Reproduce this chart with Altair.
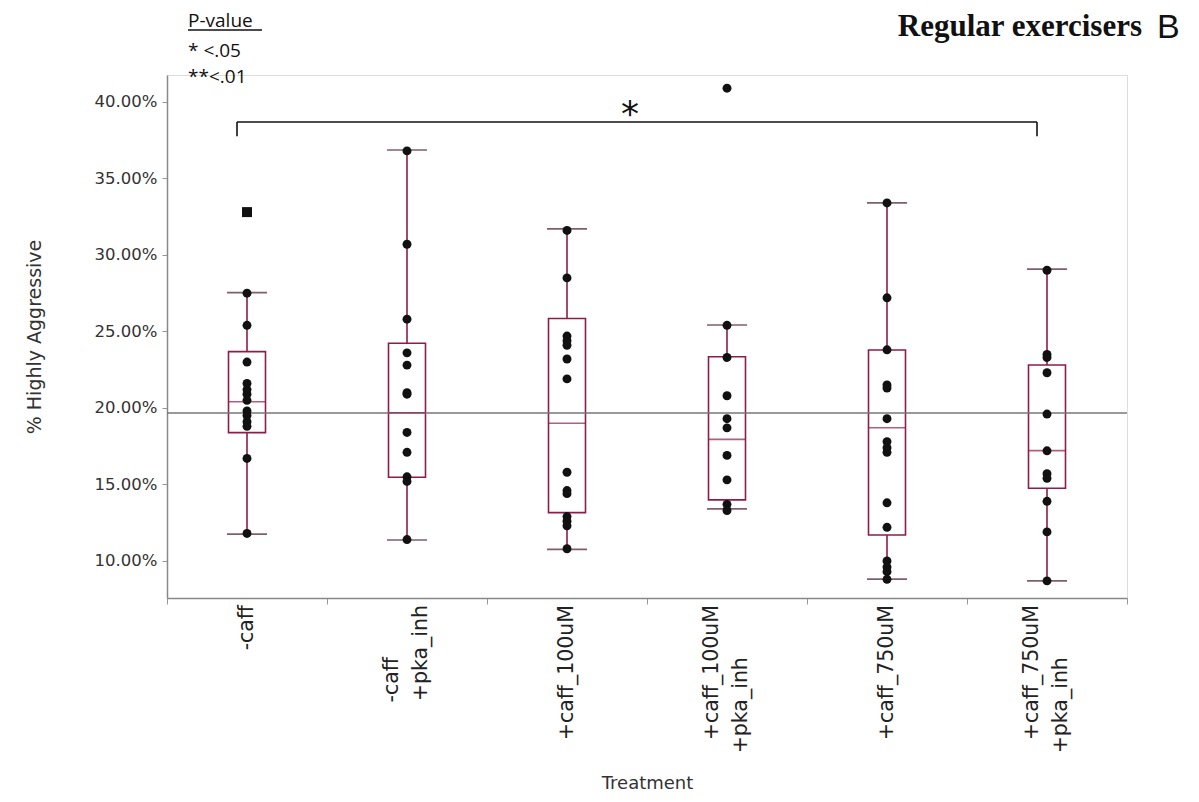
import altair as alt
import pandas as pd

# ---------------- data (percent values) ----------------
categories = ["-caff", "-caff +pka_inh", "+caff_100uM", "+caff_100uM +pka_inh",
              "+caff_750uM", "+caff_750uM +pka_inh"]
whisker_low = [11.76, 11.37, 10.76, 13.40, 8.82, 8.70]
q1 = [18.39, 15.47, 13.16, 13.99, 11.70, 14.75]
median = [20.41, 19.69, 19.00, 17.95, 18.71, 17.21]
q3 = [23.68, 24.23, 25.85, 23.35, 23.79, 22.81]
whisker_high = [27.54, 36.86, 31.70, 25.42, 33.40, 29.07]

pts_caff = [27.5, 25.4, 23.0, 21.6, 21.2, 20.9, 20.5, 19.8, 19.5, 19.1, 18.8, 16.7, 11.8]
pts_caff_pka = [36.8, 30.7, 25.8, 23.6, 22.8, 21.0, 20.9, 18.4, 17.1, 15.5, 15.2, 11.4]
pts_c100 = [31.6, 28.5, 24.7, 24.4, 24.1, 23.2, 21.9, 15.8, 14.6, 14.4, 12.9, 12.6, 12.3, 10.8]
pts_c100_pka = [40.9, 25.4, 23.3, 20.8, 19.3, 18.7, 16.9, 15.3, 13.7, 13.3]
pts_c750 = [33.4, 27.2, 23.8, 21.5, 21.3, 19.3, 17.8, 17.4, 17.1, 13.8, 12.2, 10.0, 9.6, 9.3, 8.8]
pts_c750_pka = [29.0, 23.5, 23.3, 22.3, 19.6, 17.2, 15.7, 15.4, 13.9, 11.9, 8.7]
square_outlier_cat = ["-caff"]
square_outlier_val = [32.8]

reference_line = 19.67
bracket_from, bracket_to = categories[0], categories[5]
bracket_level, bracket_tick_end = 38.69, 37.75

# ---------------- tables ----------------
box_df = pd.DataFrame({
    "cat": categories,
    "low": [v / 100 for v in whisker_low],
    "q1": [v / 100 for v in q1],
    "med": [v / 100 for v in median],
    "q3": [v / 100 for v in q3],
    "high": [v / 100 for v in whisker_high],
})
all_pts = [pts_caff, pts_caff_pka, pts_c100, pts_c100_pka, pts_c750, pts_c750_pka]
pts_df = pd.DataFrame([{"cat": c, "v": v / 100} for c, vals in zip(categories, all_pts) for v in vals])
sq_df = pd.DataFrame({"cat": square_outlier_cat, "v": [v / 100 for v in square_outlier_val]})
ref_df = pd.DataFrame({"v": [reference_line / 100]})
br_df = pd.DataFrame({"a": [bracket_from], "b": [bracket_to], "y": [bracket_level / 100]})
brt_df = pd.DataFrame({"a": [bracket_from, bracket_to], "y": [bracket_level / 100] * 2,
                       "y2": [bracket_tick_end / 100] * 2})

# x labels: two-line labels keep their lines starting together (the shorter line is padded;
# a zero-width space keeps the padding from being trimmed)
NB, ZW = "\u00a0", "\u200b"
single_cats, single_txt, multi_cats, multi_txt = [], [], [], []
for c in categories:
    lines = c.split(" ")
    L = max(len(s) for s in lines)
    padded = [s + (NB * int(round(2.8 * (L - len(s)))) + ZW if len(s) < L else "") for s in lines]
    if len(lines) == 1:
        single_cats.append(c); single_txt.append(padded[0])
    else:
        multi_cats.append(c); multi_txt.append("\n".join(padded))
single_df = pd.DataFrame({"cat": single_cats, "t": single_txt})
multi_df = pd.DataFrame({"cat": multi_cats, "t": multi_txt})

MAROON = "#8e1c48"
FONT = "DejaVu Sans"
H = 523

x_enc = alt.X("cat:N", scale=alt.Scale(type="band", domain=categories, paddingInner=0, paddingOuter=0),
              axis=alt.Axis(title="Treatment", labels=False,
                            tickBand="extent", tickSize=6, tickColor="#999",
                            domainColor="#888", domainWidth=1.5,
                            titleFont=FONT, titleFontSize=18, titleFontWeight="normal",
                            titleColor="#333", titlePadding=170))
y_scale = alt.Scale(domain=[0.0758, 0.4176], nice=False, zero=False)
y_axis = alt.Axis(title="% Highly Aggressive", format=".2%", values=[0.10, 0.15, 0.20, 0.25, 0.30, 0.35, 0.40],
                  labelFont=FONT, labelFontSize=16.5, labelColor="#333", tickSize=5, tickColor="#999",
                  domainColor="#888", domainWidth=1.5, labelPadding=5, grid=False,
                  titleFont=FONT, titleFontSize=19, titleFontWeight="normal", titleColor="#333",
                  titlePadding=50)

box = alt.Chart(box_df).mark_bar(size=37, fillOpacity=0, stroke=MAROON, strokeWidth=1.6).encode(
    x=x_enc, y=alt.Y("q1:Q", scale=y_scale, axis=y_axis), y2="q3:Q")
med = alt.Chart(box_df).mark_tick(size=37, thickness=1.6, color=MAROON, orient="horizontal").encode(
    x="cat:N", y="med:Q")
wl = alt.Chart(box_df).mark_rule(color=MAROON, strokeWidth=1.6).encode(x="cat:N", y="low:Q", y2="q1:Q")
wh = alt.Chart(box_df).mark_rule(color=MAROON, strokeWidth=1.6).encode(x="cat:N", y="q3:Q", y2="high:Q")
cap_l = alt.Chart(box_df).mark_tick(size=40, thickness=1.7, color="#4a1a30", orient="horizontal").encode(
    x="cat:N", y="low:Q")
cap_h = alt.Chart(box_df).mark_tick(size=40, thickness=1.7, color="#4a1a30", orient="horizontal").encode(
    x="cat:N", y="high:Q")
ref = alt.Chart(ref_df).mark_rule(color="#777", strokeWidth=1.5).encode(y="v:Q")
points = alt.Chart(pts_df).mark_circle(size=80, color="#111", opacity=1).encode(x="cat:N", y="v:Q")
squares = alt.Chart(sq_df).mark_square(size=100, color="#111", opacity=1).encode(x="cat:N", y="v:Q")

lab_single = alt.Chart(single_df).mark_text(
    angle=270, align="right", baseline="middle", font=FONT, fontSize=20.5, color="#222").encode(
    x="cat:N", y=alt.value(H + 7), text="t:N")
lab_multi = alt.Chart(multi_df).mark_text(
    angle=270, align="right", baseline="middle", font=FONT, fontSize=20.5, color="#222",
    lineBreak="\n", lineHeight=29, xOffset=-15).encode(
    x="cat:N", y=alt.value(H + 7), text="t:N")

bracket = alt.Chart(br_df).mark_rule(color="#111", strokeWidth=1.6, xOffset=-10, x2Offset=-10).encode(
    x="a:N", x2="b", y="y:Q")
bracket_ticks = alt.Chart(brt_df).mark_rule(color="#111", strokeWidth=1.6, xOffset=-10).encode(
    x="a:N", y="y:Q", y2="y2:Q")
star = alt.Chart(pd.DataFrame({"t": ["*"]})).mark_text(
    fontSize=36, font=FONT, color="#111", align="center", baseline="middle").encode(
    x=alt.value(463), y=alt.value(40), text="t:N")

title = alt.Chart(pd.DataFrame({"t": ["Regular exercisers"]})).mark_text(
    font="Liberation Serif", fontSize=31, fontWeight="bold", color="#111", align="right",
    baseline="alphabetic").encode(x=alt.value(975), y=alt.value(-39), text="t:N")
panel = alt.Chart(pd.DataFrame({"t": ["B"]})).mark_text(
    font="Liberation Sans", fontSize=34, color="#111", align="left",
    baseline="alphabetic").encode(x=alt.value(990), y=alt.value(-37), text="t:N")
legend_txt = alt.Chart(pd.DataFrame({"t": ["P-value", "* <.05", "**<.01"], "yy": [-48, -18, 8]})).mark_text(
    font="Open Sans", fontSize=19, color="#111", align="left", baseline="alphabetic").encode(
    x=alt.value(21), y=alt.Y("yy:Q", scale=None), text="t:N")
underline = alt.Chart(pd.DataFrame({"t": [0]})).mark_rule(color="#111", strokeWidth=1.3).encode(
    x=alt.value(21), x2=alt.value(95), y=alt.value(-45))

chart = alt.layer(box, ref, wl, wh, cap_l, cap_h, med, points, squares, lab_single, lab_multi,
                  bracket, bracket_ticks, star, title, panel, legend_txt, underline).properties(
    width=960, height=H, autosize="none",
    padding={"left": 159, "top": 67, "right": 64, "bottom": 196},
).configure_view(stroke=None).configure(font=FONT, background="white")

chart.save("out.html", embed_options={"renderer": "svg", "actions": False})
